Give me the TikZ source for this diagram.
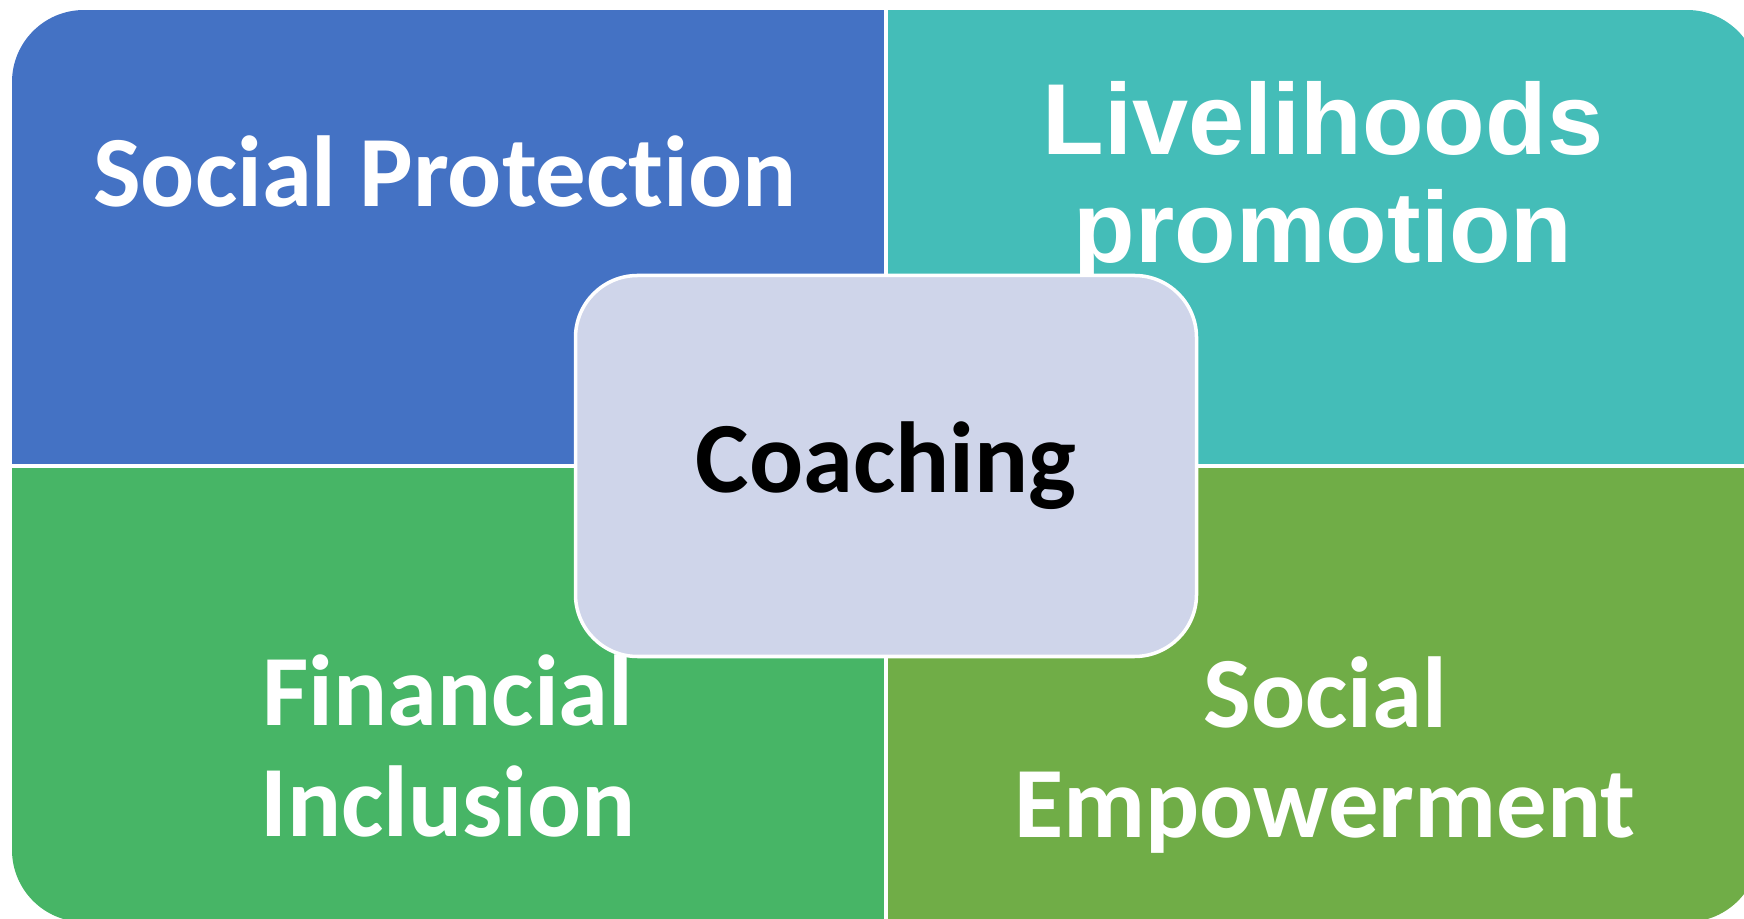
\documentclass[tikz,border=0pt]{standalone}
\usepackage{fontspec}
\setmainfont[Ligatures=NoCommon]{Carlito}
\newfontfamily\arialfont{Liberation Sans}

\definecolor{protblue}{HTML}{4472C4}
\definecolor{livteal}{HTML}{44BDB8}
\definecolor{fingreen}{HTML}{47B566}
\definecolor{empgreen}{HTML}{70AD47}
\definecolor{coachgray}{HTML}{CFD5EA}

\tikzset{
  quadtext/.style={text=white, font=\bfseries\fontsize{28.7}{31.5}\selectfont, align=center, inner sep=0pt},
  sepline/.style={white, line width=0.9pt}
}

\begin{document}
\begin{tikzpicture}

\useasboundingbox (0,0) rectangle (17.44,9.18);

\coordinate (TL) at (0.12,9.08);
\coordinate (TR) at (17.59,9.08);
\coordinate (BL) at (0.12,-0.04);
\coordinate (BR) at (17.59,-0.04);
\coordinate (M) at (8.86,4.52);

\begin{scope}
\clip[rounded corners=0.72cm] (BL) rectangle (TR);
\fill[protblue] (TL) rectangle (M);
\fill[livteal] (TR) rectangle (M);
\fill[fingreen] (BL) rectangle (M);
\fill[empgreen] (BR) rectangle (M);
\draw[sepline] (M |- TL) -- (M |- BL);
\draw[sepline] (M -| TL) -- (M -| TR);
\end{scope}

\node[quadtext, anchor=base] (prot) at (4.45,7.11) {Social Protection};
\node[quadtext, font=\arialfont\bfseries\fontsize{28.7}{30.7}\selectfont] (liv) at (13.23,7.36) {Livelihoods\\promotion};
\node[quadtext] (fin) at (4.48,1.72) {Financial\\Inclusion};
\node[quadtext] (emp) at (13.25,1.63) {Social\\Empowerment};

\node[draw=white, line width=1pt, fill=coachgray, rounded corners=0.62cm,
      minimum width=6.21cm, minimum height=3.81cm,
      font=\bfseries\fontsize{28.7}{31.5}\selectfont] (coach) at (M) {Coaching};

\end{tikzpicture}
\end{document}
